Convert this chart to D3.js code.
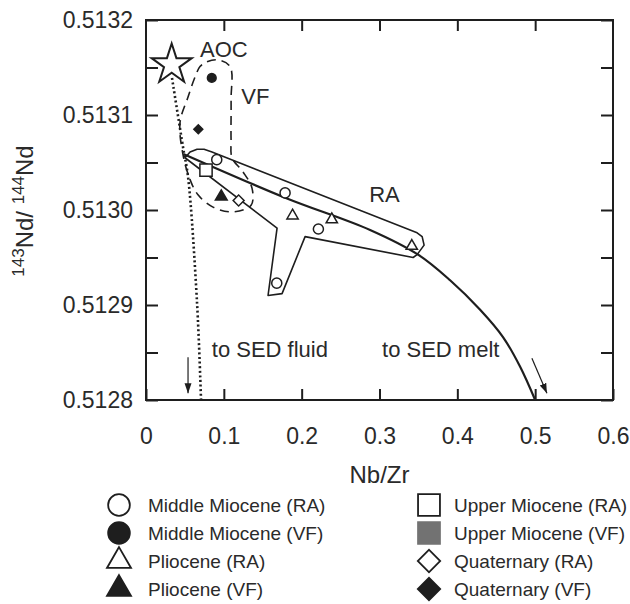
<!DOCTYPE html>
<html>
<head>
<meta charset="utf-8">
<script src="https://cdn.jsdelivr.net/npm/d3@7"></script>
<style>
body { margin: 0; background: #fff; }
svg text { font-family: "Liberation Sans", Arial, sans-serif; fill: #2a2a2a; }
</style>
</head>
<body>
<div id="chart"></div>
<script>
// data (Nb/Zr, 143Nd/144Nd)
var aoc = [[0.033, 0.513153]];
var middleMioceneRA = [[0.0909, 0.513053], [0.1787, 0.513018], [0.2215, 0.51298], [0.168, 0.512923]];
var middleMioceneVF = [[0.0845, 0.513139]];
var plioceneRA = [[0.1883, 0.512994], [0.2387, 0.51299], [0.3415, 0.512962]];
var plioceneVF = [[0.0967, 0.513014]];
var upperMioceneRA = [[0.0771, 0.513042]];
var quaternaryRA = [[0.119, 0.51301]];
var quaternaryVF = [[0.0672, 0.513085]];

var meltCurve = [[0.048, 0.513059], [0.1787, 0.513013], [0.2879, 0.512979], [0.3496, 0.512953],
	[0.3907, 0.512926], [0.4293, 0.512895], [0.4589, 0.512866], [0.4807, 0.512835], [0.5, 0.5128]];
var fluidCurve = [[0.0334, 0.513139], [0.0476, 0.513066], [0.054, 0.513035], [0.0656, 0.512902], [0.0707, 0.5128]];

var raField = [[0.0501, 0.513055], [0.0566, 0.513061], [0.0656, 0.513064], [0.0746, 0.513064], [0.0848, 0.513061],
	[0.3483, 0.512976], [0.3548, 0.512972], [0.3573, 0.512963], [0.3483, 0.512953], [0.3432, 0.51295],
	[0.2044, 0.512972], [0.1748, 0.512912], [0.1568, 0.51291], [0.1684, 0.512981]];
var vfField = [[0.0694, 0.513151], [0.0784, 0.513156], [0.0925, 0.513158], [0.108, 0.513151], [0.1093, 0.513116],
	[0.1093, 0.513074], [0.1105, 0.513055], [0.1247, 0.51304], [0.1362, 0.513023], [0.135, 0.513005],
	[0.1118, 0.512998], [0.0861, 0.513003], [0.0668, 0.513016], [0.0566, 0.513032], [0.0476, 0.513058],
	[0.0437, 0.513092], [0.054, 0.513119], [0.063, 0.51314]];

var fluidArrow = [[0.054, 0.512845], [0.054, 0.512807]];
var meltArrow = [[0.4958, 0.512844], [0.5151, 0.512807]];

var labels = [
	{text: "AOC", x: 0.0694, y: 0.513161},
	{text: "VF", x: 0.1225, y: 0.513112},
	{text: "RA", x: 0.2867, y: 0.513008},
	{text: "to SED fluid", x: 0.0845, y: 0.512845},
	{text: "to SED melt", x: 0.3033, y: 0.512845}
];

var xTicks = [0, 0.1, 0.2, 0.3, 0.4, 0.5, 0.6];
var yTicks = [0.5128, 0.5129, 0.5130, 0.5131, 0.5132];
var yMinorTicks = [0.51285, 0.51295, 0.51305, 0.51315];

var legendItems = [
	{name: "Middle Miocene (RA)", shape: "circle", fill: "#fff"},
	{name: "Middle Miocene (VF)", shape: "circle", fill: "#1e1e1e"},
	{name: "Pliocene (RA)", shape: "triangle", fill: "#fff"},
	{name: "Pliocene (VF)", shape: "triangle", fill: "#1e1e1e"},
	{name: "Upper Miocene (RA)", shape: "square", fill: "#fff"},
	{name: "Upper Miocene (VF)", shape: "square", fill: "#727272"},
	{name: "Quaternary (RA)", shape: "diamond", fill: "#fff"},
	{name: "Quaternary (VF)", shape: "diamond", fill: "#1e1e1e"}
];

var width = 630;
var height = 604;
var ink = "#1e1e1e";

var svg = d3.select("#chart")
	.append("svg")
	.attr("width", width)
	.attr("height", height);

var x = d3.scaleLinear().domain([0, 0.6]).range([146, 613]);
var y = d3.scaleLinear().domain([0.5128, 0.5132]).range([400, 20]);

var line = d3.line()
	.x(function(d) { return x(d[0]); })
	.y(function(d) { return y(d[1]); });

// diamond = square turned 45 degrees
function symbolPath(shape, size) {
	if (shape == "circle") return d3.symbol(d3.symbolCircle, size)();
	if (shape == "triangle") return d3.symbol(d3.symbolTriangle, size)();
	if (shape == "square") return d3.symbol(d3.symbolSquare, size)();
	if (shape == "star") return d3.symbol(d3.symbolStar, size)();
	return d3.symbol(d3.symbolSquare, size)();
}

// axes
function fmtX(d) { return d === 0 ? "0" : d3.format(".1f")(d); }

var gx = svg.append("g")
	.attr("transform", "translate(0," + 400 + ")")
	.call(d3.axisBottom(x).tickValues(xTicks).tickSizeInner(-11).tickSizeOuter(0).tickPadding(28).tickFormat(fmtX));
gx.selectAll("text").style("font-size", "23px");

svg.append("g")
	.attr("transform", "translate(0," + 20 + ")")
	.call(d3.axisTop(x).tickValues(xTicks.slice(1, 6)).tickSizeInner(-11).tickSizeOuter(0).tickFormat(""));

var gy = svg.append("g")
	.attr("transform", "translate(" + 146 + ",0)")
	.call(d3.axisLeft(y).tickValues(yTicks).tickSizeInner(-12).tickSizeOuter(0).tickPadding(13).tickFormat(d3.format(".4f")));
gy.selectAll("text").style("font-size", "23px");

svg.append("g")
	.attr("transform", "translate(" + 146 + ",0)")
	.call(d3.axisLeft(y).tickValues(yMinorTicks).tickSizeInner(-12).tickSizeOuter(0).tickFormat(""));

svg.append("g")
	.attr("transform", "translate(" + 613 + ",0)")
	.call(d3.axisRight(y).tickValues(yTicks.concat(yMinorTicks)).tickSizeInner(-12).tickSizeOuter(0).tickFormat(""));

svg.selectAll(".domain").remove();
svg.selectAll(".tick line").attr("stroke", ink).attr("stroke-width", 2);
svg.selectAll(".tick text").attr("fill", "#2a2a2a").style("font-family", "'Liberation Sans', Arial, sans-serif");

svg.append("rect")
	.attr("x", x(0))
	.attr("y", y(0.5132))
	.attr("width", x(0.6) - x(0))
	.attr("height", y(0.5128) - y(0.5132))
	.attr("fill", "none")
	.attr("stroke", ink)
	.attr("stroke-width", 2);

// axis titles
svg.append("text")
	.attr("x", (x(0) + x(0.6)) / 2)
	.attr("y", 483)
	.attr("text-anchor", "middle")
	.style("font-size", "24px")
	.text("Nb/Zr");

var yTitle = svg.append("text")
	.attr("transform", "translate(33," + 211 + ") rotate(-90)")
	.attr("text-anchor", "middle")
	.style("font-size", "24px");
yTitle.append("tspan").style("font-size", "17px").attr("dy", -9).text("143");
yTitle.append("tspan").attr("dy", 9).text("Nd/ ");
yTitle.append("tspan").style("font-size", "17px").attr("dy", -9).text("144");
yTitle.append("tspan").attr("dy", 9).text("Nd");

// fields and mixing lines
var plot = svg.append("g");

plot.append("path")
	.attr("d", line.curve(d3.curveCatmullRomClosed)(vfField))
	.attr("fill", "none")
	.attr("stroke", ink)
	.attr("stroke-width", 1.6)
	.attr("stroke-dasharray", "9,6");

plot.append("path")
	.attr("d", line.curve(d3.curveLinearClosed)(raField))
	.attr("fill", "none")
	.attr("stroke", ink)
	.attr("stroke-width", 1.6)
	.attr("stroke-linejoin", "round");

plot.append("path")
	.attr("d", line.curve(d3.curveCatmullRom)(meltCurve))
	.attr("fill", "none")
	.attr("stroke", ink)
	.attr("stroke-width", 2.2);

plot.append("path")
	.attr("d", line.curve(d3.curveCatmullRom)(fluidCurve))
	.attr("fill", "none")
	.attr("stroke", ink)
	.attr("stroke-width", 2.6)
	.attr("stroke-dasharray", "2,2.6");

// arrows
svg.append("defs").append("marker")
	.attr("id", "head")
	.attr("viewBox", "0 0 10 10")
	.attr("refX", 10)
	.attr("refY", 5)
	.attr("markerWidth", 10)
	.attr("markerHeight", 10)
	.attr("markerUnits", "userSpaceOnUse")
	.attr("orient", "auto")
	.append("path")
	.attr("d", "M0,1.5 L10,5 L0,8.5 Z")
	.attr("fill", ink);

[fluidArrow, meltArrow].forEach(function(a) {
	plot.append("path")
		.attr("d", line.curve(d3.curveLinear)(a))
		.attr("stroke", ink)
		.attr("stroke-width", 1.2)
		.attr("marker-end", "url(#head)");
});

// samples
function drawPoints(data, shape, size, fill) {
	plot.selectAll(null)
		.data(data)
		.enter()
		.append("path")
		.attr("d", symbolPath(shape, size))
		.attr("transform", function(d) {
			var t = "translate(" + x(d[0]) + "," + y(d[1]) + ")";
			return shape == "diamond" ? t + " rotate(45)" : t;
		})
		.attr("fill", fill)
		.attr("stroke", ink)
		.attr("stroke-width", 1.5);
}

drawPoints(middleMioceneRA, "circle", 80, "#fff");
drawPoints(middleMioceneVF, "circle", 60, ink);
drawPoints(plioceneRA, "triangle", 55, "#fff");
drawPoints(plioceneVF, "triangle", 60, ink);
drawPoints(upperMioceneRA, "square", 150, "#fff");
drawPoints(quaternaryRA, "diamond", 60, "#fff");
drawPoints(quaternaryVF, "diamond", 40, ink);

plot.selectAll(null)
	.data(aoc)
	.enter()
	.append("path")
	.attr("d", symbolPath("star", 500))
	.attr("transform", function(d) { return "translate(" + x(d[0]) + "," + y(d[1]) + ")"; })
	.attr("fill", "#fff")
	.attr("stroke", ink)
	.attr("stroke-width", 2);

// text labels in the plot
svg.selectAll(null)
	.data(labels)
	.enter()
	.append("text")
	.attr("x", function(d) { return x(d.x); })
	.attr("y", function(d) { return y(d.y); })
	.style("font-size", "22px")
	.text(function(d) { return d.text; });

// legend
var legend = svg.append("g");
var rowY = [505, 533, 561, 589];
var colX = [[119, 148], [429, 454]];

legendItems.forEach(function(item, i) {
	var col = colX[Math.floor(i / 4)];
	var cy = rowY[i % 4];
	var size = item.shape == "circle" ? 370 : item.shape == "triangle" ? 250 : item.shape == "square" ? 480 : 250;
	legend.append("path")
		.attr("d", symbolPath(item.shape, size))
		.attr("transform", "translate(" + col[0] + "," + cy + ")" + (item.shape == "diamond" ? " rotate(45)" : ""))
		.attr("fill", item.fill)
		.attr("stroke", item.fill == "#727272" ? "#727272" : ink)
		.attr("stroke-width", 1.8);
	legend.append("text")
		.attr("x", col[1])
		.attr("y", cy + 7)
		.style("font-size", "19px")
		.text(item.name);
});
</script>
</body>
</html>
